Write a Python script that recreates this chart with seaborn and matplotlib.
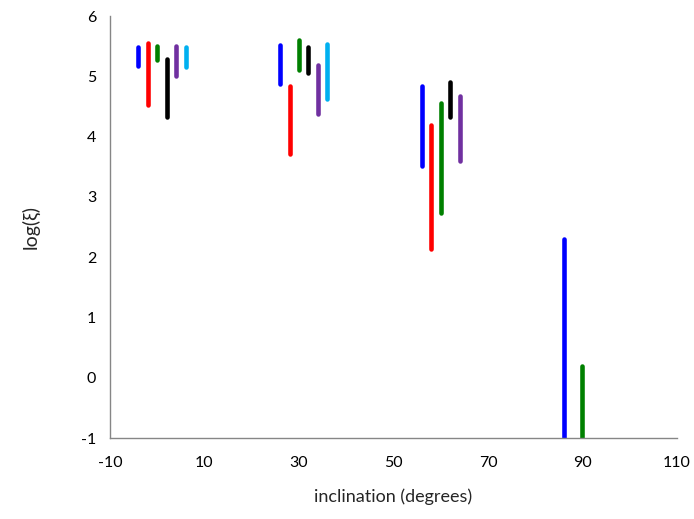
import pandas as pd
import matplotlib
matplotlib.use("Agg")
import matplotlib.pyplot as plt
import seaborn as sns

# vertical ranges of log(xi) per inclination
inclination = [-4, -2, 0, 2, 4, 6,
               26, 28, 30, 32, 34, 36,
               56, 58, 60, 62, 64,
               86, 90]
series = ['blue', 'red', 'green', 'black', 'purple', 'lightblue',
          'blue', 'red', 'green', 'black', 'purple', 'lightblue',
          'blue', 'red', 'green', 'black', 'purple',
          'blue', 'green']
log_hi = [5.49, 5.56, 5.51, 5.28, 5.50, 5.48,
          5.52, 4.84, 5.60, 5.48, 5.19, 5.54,
          4.84, 4.19, 4.56, 4.90, 4.67,
          2.30, 0.20]
log_lo = [5.17, 4.53, 5.27, 4.33, 5.01, 5.16,
          4.88, 3.71, 5.11, 5.05, 4.38, 4.63,
          3.52, 2.14, 2.73, 4.32, 3.60,
          -1.0, -1.0]

x_ticks = [-10, 10, 30, 50, 70, 90, 110]
y_ticks = [-1, 0, 1, 2, 3, 4, 5, 6]

colour_map = {'blue': '#0000FF', 'red': '#FF0000', 'green': '#008000',
              'black': '#000000', 'purple': '#7030A0', 'lightblue': '#00B0F0'}

# long table: two rows (low, high) per segment
rows = []
for i, (x, s, lo, hi) in enumerate(zip(inclination, series, log_lo, log_hi)):
    rows.append({'seg': i, 'series': s, 'x': x, 'y': lo})
    rows.append({'seg': i, 'series': s, 'x': x, 'y': hi})
df = pd.DataFrame(rows)

sns.set_style('white')
plt.rcParams['font.family'] = ['Lato', 'DejaVu Sans']

fig, ax = plt.subplots(figsize=(6.94, 5.19), dpi=100)
fig.subplots_adjust(left=0.1585, right=0.9755, top=0.969, bottom=0.156)

palette = {i: colour_map[s] for i, s in enumerate(series)}
sns.lineplot(data=df, x='x', y='y', hue='seg', units='seg', estimator=None,
             sort=False, palette=palette, legend=False, linewidth=3.3,
             solid_capstyle='round', ax=ax)

ax.set_xlim(-10, 110)
ax.set_ylim(-1, 6)
ax.set_xticks(x_ticks)
ax.set_yticks(y_ticks)
ax.set_xticklabels([str(t) for t in x_ticks])
ax.set_yticklabels([str(t) for t in y_ticks])
ax.tick_params(axis='both', direction='out', length=5, width=1,
               labelsize=11.5, colors='#868686', labelcolor='black', pad=5)
ax.tick_params(axis='x', pad=8)

for side in ['top', 'right']:
    ax.spines[side].set_visible(False)
for side in ['left', 'bottom']:
    ax.spines[side].set_color('#868686')
    ax.spines[side].set_linewidth(1)

ax.set_xlabel('inclination (degrees)', fontsize=13, labelpad=13)
ax.set_ylabel('log(ξ)', fontsize=14, labelpad=30)

fig.savefig('out.png', dpi=100)
